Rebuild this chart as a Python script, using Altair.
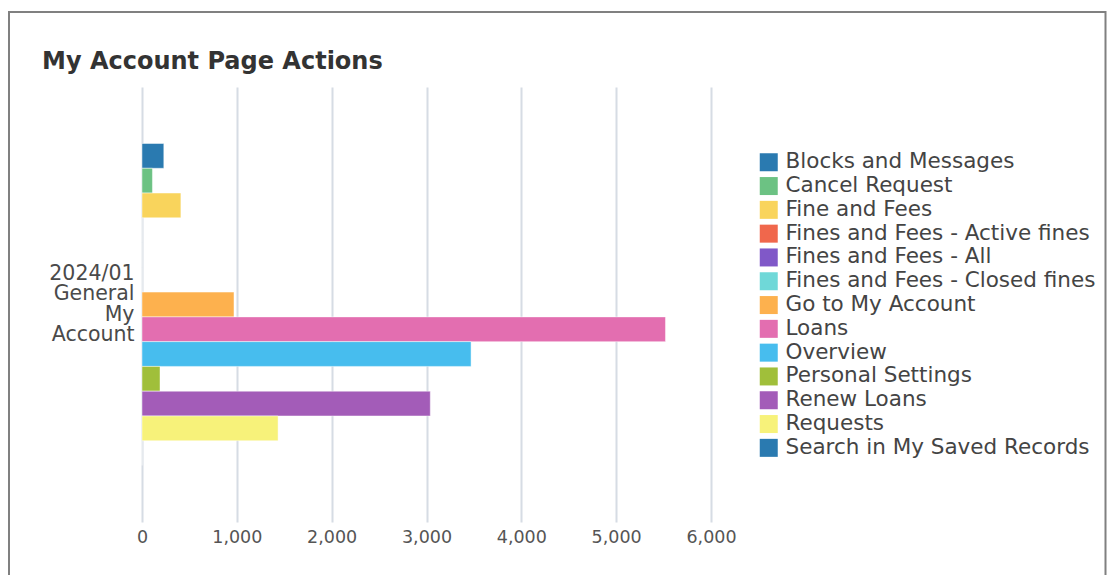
import altair as alt
import pandas as pd

categories = ["2024/01 General My Account"]
series = [
    "Blocks and Messages",
    "Cancel Request",
    "Fine and Fees",
    "Fines and Fees - Active fines",
    "Fines and Fees - All",
    "Fines and Fees - Closed fines",
    "Go to My Account",
    "Loans",
    "Overview",
    "Personal Settings",
    "Renew Loans",
    "Requests",
    "Search in My Saved Records",
]
values = [230, 110, 410, 0, 0, 0, 970, 5520, 3470, 190, 3040, 1435, 0]
colors = [
    "#2a7ab0", "#6cc283", "#f9d45c", "#f0674c", "#8058c8", "#6fd8d8",
    "#fdb14e", "#e36eb0", "#47bdee", "#a0bf3a", "#a35cb8", "#f7f27a",
    "#2a7ab0",
]
x_ticks = [0, 1000, 2000, 3000, 4000, 5000, 6000]

df = pd.DataFrame({
    "category": [categories[0]] * len(series),
    "action": series,
    "count": values,
})

FONT = "DejaVu Sans"

border = alt.Chart(pd.DataFrame({"a": [0]})).mark_rect(
    fillOpacity=0, stroke="#808080", strokeWidth=2
).encode(
    x=alt.value(-133), x2=alt.value(963.5), y=alt.value(-75), y2=alt.value(620)
)

bars = alt.Chart(df).mark_bar(
    stroke="white", strokeWidth=1, strokeOpacity=0.45
).encode(
    x=alt.X(
        "count:Q",
        scale=alt.Scale(domain=[0, 6000], nice=False),
        axis=alt.Axis(
            values=x_ticks, format=",.0f", title=None, grid=True,
            gridColor="#d6dce4", gridWidth=2, domain=False, ticks=False,
            labelFontSize=17.5, labelColor="#555555", labelPadding=6, labelFont=FONT,
            labelFlush=False, labelOverlap=False,
        ),
    ),
    y=alt.Y(
        "category:N",
        scale=alt.Scale(paddingOuter=0.1755, paddingInner=0),
        axis=alt.Axis(
            title=None, domain=False, ticks=False, grid=False,
            labelExpr="split(datum.label, ' ')", labelLineHeight=20.5,
            labelFontSize=20.5, labelColor="#4a4a4a", labelPadding=8, labelFont=FONT,
            labelOffset=-31,
        ),
    ),
    yOffset=alt.YOffset("action:N", sort=series,
                        scale=alt.Scale(paddingInner=0, paddingOuter=0)),
    color=alt.Color(
        "action:N", sort=series,
        scale=alt.Scale(domain=series, range=colors),
        legend=alt.Legend(
            title=None, orient="none", legendX=616, legendY=64.5,
            symbolType="square", symbolSize=324, symbolStrokeWidth=0,
            labelFontSize=21.5, labelColor="#444444", labelFont=FONT,
            rowPadding=0.8, labelOffset=6, padding=0, labelLimit=500,
        ),
    ),
)

chart = alt.layer(border, bars).properties(
    width=569,
    height=435,
    autosize=alt.AutoSizeParams(type="none"),
    padding={"left": 134, "top": 79, "right": 396, "bottom": 53},
    title=alt.TitleParams(
        "My Account Page Actions", anchor="start", frame="group", dx=-100,
        fontSize=24, fontWeight="bold", color="#333333", font=FONT,
        baseline="alphabetic", offset=0, dy=82,
    ),
).configure(
    background="white", font=FONT, view=alt.ViewConfig(strokeWidth=0)
)

chart.save("out.html", embed_options={"renderer": "svg", "actions": False})
